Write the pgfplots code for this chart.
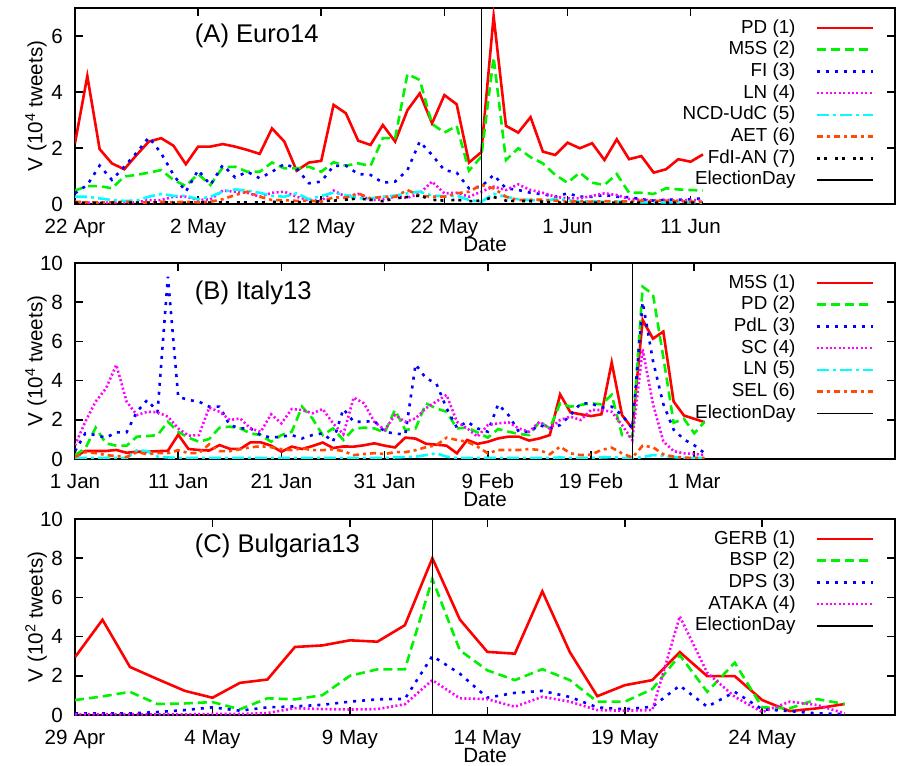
\documentclass[border=0pt]{standalone}
\usepackage{fontspec}
\setmainfont{Liberation Sans}
\usepackage{pgfplots}
\usepackage{pgfplotstable}
\pgfplotsset{compat=1.18}

\definecolor{cRed}{rgb}{1,0,0}
\definecolor{cGreen}{rgb}{0,0.95,0}
\definecolor{cBlue}{rgb}{0,0,1}
\definecolor{cMag}{rgb}{1,0,1}
\definecolor{cCyan}{rgb}{0,1,1}
\definecolor{cOrange}{rgb}{1,0.3,0}

\pgfplotstableread{
day PD M5S FI LN NCD AET FdI
0 2.17 0.48 0.38 0.05 0.26 0.08 0.05
1 4.57 0.64 0.68 0.05 0.26 0.06 0.04
2 1.96 0.64 1.37 0.04 0.20 0.05 0.04
3 1.45 0.56 0.86 0.05 0.14 0.06 0.05
4 1.24 0.98 1.33 0.05 0.11 0.08 0.04
5 1.75 1.04 1.83 0.06 0.12 0.06 0.05
6 2.23 1.12 2.38 0.14 0.26 0.05 0.05
7 2.35 1.21 1.81 0.14 0.36 0.08 0.06
8 2.08 0.86 1.04 0.26 0.29 0.06 0.05
9 1.42 0.64 0.44 0.26 0.29 0.08 0.05
10 2.05 1.07 1.21 0.14 0.17 0.06 0.06
11 2.05 0.68 0.68 0.17 0.26 0.08 0.05
12 2.14 1.31 1.39 0.48 0.44 0.17 0.06
13 2.05 1.33 0.95 0.44 0.52 0.32 0.05
14 1.93 1.15 1.15 0.40 0.48 0.44 0.06
15 1.79 1.15 0.92 0.26 0.40 0.26 0.05
16 2.70 1.48 1.15 0.40 0.29 0.14 0.08
17 2.23 1.27 1.43 0.44 0.26 0.14 0.06
18 1.19 1.27 1.27 0.26 0.38 0.11 0.07
19 1.48 1.33 0.74 0.14 0.17 0.12 0.06
20 1.54 1.15 0.80 0.11 0.29 0.08 0.10
21 3.54 1.49 1.36 0.48 0.40 0.24 0.12
22 3.24 1.37 1.37 0.26 0.32 0.22 0.15
23 2.26 1.45 1.07 0.36 0.20 0.38 0.20
24 2.11 1.36 1.04 0.14 0.20 0.20 0.15
25 2.82 2.35 0.76 0.17 0.26 0.26 0.10
26 2.23 2.35 0.80 0.26 0.30 0.26 0.20
27 3.35 4.64 1.21 0.22 0.38 0.50 0.25
28 3.95 4.43 2.23 0.38 0.44 0.29 0.30
29 2.88 2.86 1.75 0.80 0.30 0.26 0.15
30 3.89 2.55 1.21 0.38 0.28 0.26 0.12
31 3.56 2.79 1.12 0.40 0.30 0.38 0.15
32 1.48 1.19 0.56 0.26 0.14 0.44 0.10
33 1.85 1.69 0.62 0.44 0.08 0.68 0.12
34 6.71 5.24 1.04 0.62 0.36 0.56 0.25
35 2.79 1.57 0.56 0.50 0.26 0.26 0.12
36 2.55 1.99 0.50 0.70 0.17 0.14 0.10
37 3.10 1.67 0.40 0.50 0.14 0.15 0.10
38 1.87 1.45 0.35 0.40 0.12 0.15 0.08
39 1.75 1.04 0.26 0.26 0.17 0.12 0.05
40 2.19 0.76 0.38 0.20 0.14 0.08 0.05
41 1.99 1.12 0.26 0.20 0.08 0.10 0.05
42 2.17 0.76 0.26 0.29 0.10 0.08 0.05
43 1.57 0.68 0.32 0.38 0.08 0.10 0.05
44 2.31 1.07 0.26 0.32 0.08 0.08 0.05
45 1.60 0.40 0.24 0.18 0.08 0.10 0.05
46 1.71 0.40 0.17 0.15 0.06 0.12 0.05
47 1.12 0.36 0.12 0.12 0.06 0.10 0.04
48 1.24 0.56 0.15 0.15 0.06 0.12 0.05
49 1.60 0.52 0.15 0.12 0.06 0.10 0.04
50 1.51 0.50 0.17 0.15 0.06 0.08 0.05
51 1.77 0.48 0.20 0.12 0.05 0.08 0.04
}\euro

\pgfplotstableread{
day M5S PD PdL SC LN SEL
0 0.12 0.20 0.40 0.70 0.05 0.10
1 0.41 0.54 1.31 1.90 0.05 0.35
2 0.41 1.60 1.22 2.93 0.05 0.30
3 0.41 0.80 1.09 3.60 0.05 0.20
4 0.46 0.68 1.36 4.80 0.05 0.15
5 0.32 0.68 1.36 2.93 0.05 0.10
6 0.37 1.14 2.41 2.24 0.45 0.35
7 0.37 1.17 3.01 2.41 0.40 0.25
8 0.40 1.22 2.41 2.38 0.12 0.30
9 0.42 1.90 9.30 2.16 0.08 0.30
10 1.24 1.39 3.18 1.56 0.05 0.45
11 0.51 1.09 3.01 1.19 0.05 0.30
12 0.46 0.88 2.93 1.22 0.05 0.30
13 0.43 1.02 2.67 2.62 0.05 0.75
14 0.71 1.60 2.67 2.41 0.05 0.40
15 0.52 1.65 1.73 1.99 0.05 0.40
16 0.51 1.56 1.56 2.07 0.05 0.50
17 0.85 1.31 1.56 1.56 0.05 0.60
18 0.85 1.22 1.22 1.39 0.05 0.65
19 0.68 0.88 1.09 2.28 0.05 0.60
20 0.37 1.22 1.14 1.82 0.05 0.50
21 0.63 1.39 1.22 2.55 0.05 0.45
22 0.51 2.67 1.05 2.50 0.05 0.55
23 0.66 2.07 1.22 2.33 0.05 0.45
24 0.84 1.22 1.31 2.55 0.05 0.45
25 0.56 1.56 0.88 1.82 0.05 0.50
26 0.64 0.97 2.55 1.26 0.05 0.40
27 0.63 1.53 1.90 3.13 0.05 0.20
28 0.70 1.60 1.90 2.84 0.05 0.25
29 0.80 1.56 1.94 1.90 0.05 0.30
30 0.68 1.35 1.39 1.48 0.05 0.25
31 0.59 2.50 1.30 2.24 0.08 0.35
32 1.09 1.48 1.25 1.90 0.10 0.35
33 1.04 1.56 4.83 2.07 0.12 0.45
34 0.78 2.84 4.12 2.59 0.20 0.60
35 0.73 2.58 3.86 2.93 0.29 0.70
36 0.68 2.41 2.59 3.27 0.12 1.09
37 0.29 1.56 1.60 1.90 0.05 0.97
38 0.97 1.60 1.90 1.56 0.05 0.88
39 0.77 1.36 1.56 1.14 0.05 0.63
40 0.88 1.09 1.39 1.73 0.05 0.29
41 1.05 1.53 2.79 1.82 0.05 0.46
42 1.14 1.39 2.24 1.87 0.05 0.46
43 1.14 1.28 1.39 1.56 0.05 0.46
44 0.94 1.22 1.39 1.39 0.05 0.51
45 1.05 1.90 1.73 1.90 0.05 0.46
46 1.22 1.56 1.56 1.56 0.05 0.24
47 3.30 2.84 1.73 1.99 0.08 0.63
48 2.38 2.67 2.24 2.16 0.05 0.29
49 2.28 2.76 2.84 1.99 0.05 0.20
50 2.19 2.84 2.84 2.50 0.05 0.22
51 2.28 2.79 2.62 2.50 0.08 0.46
52 4.93 3.27 2.67 2.41 0.10 0.58
53 2.24 1.22 2.24 1.73 0.05 0.29
54 1.56 1.14 1.56 0.97 0.02 0.07
55 7.09 8.79 8.00 5.60 0.10 0.68
56 6.14 8.40 5.00 2.80 0.20 0.60
57 6.50 5.20 2.80 0.90 0.17 0.24
58 2.93 1.85 1.50 0.40 0.10 0.12
59 2.22 2.05 1.00 0.29 0.06 0.07
60 2.05 1.31 0.70 0.26 0.05 0.05
61 1.88 1.90 0.30 0.20 0.05 0.05
}\italy

\pgfplotstableread{
day GERB BSP DPS ATAKA
0 2.95 0.76 0.08 0.03
1 4.86 0.95 0.08 0.03
2 2.45 1.18 0.08 0.03
3 1.83 0.56 0.15 0.03
4 1.23 0.59 0.25 0.03
5 0.88 0.66 0.39 0.05
6 1.64 0.29 0.22 0.05
7 1.81 0.85 0.39 0.10
8 3.47 0.80 0.44 0.35
9 3.55 1.01 0.52 0.30
10 3.81 2.00 0.68 0.28
11 3.74 2.33 0.80 0.30
12 4.58 2.33 0.82 0.55
13 8.00 6.94 3.01 1.78
14 4.87 3.30 2.11 0.85
15 3.22 2.28 0.88 0.81
16 3.13 1.78 1.13 0.42
17 6.31 2.34 1.23 0.93
18 3.21 1.78 0.92 0.68
19 0.96 0.68 0.39 0.25
20 1.52 0.68 0.29 0.22
21 1.78 1.32 0.42 0.25
22 3.21 3.05 1.50 5.03
23 1.98 1.18 0.42 2.15
24 1.98 2.67 1.18 0.93
25 0.76 0.39 0.29 0.15
26 0.20 0.34 0.20 0.68
27 0.34 0.81 0.08 0.51
28 0.56 0.56 0.05 0.08
}\bulg

\pgfplotsset{
  legend image code/.code={\draw[#1] (0pt,0pt) -- (28pt,0pt);},
  s1/.style={cRed, solid, line width=1.3pt},
  s2/.style={cGreen, line width=1.3pt, dash pattern=on 4.5pt off 2.5pt},
  s3/.style={cBlue, line width=1.3pt, dash pattern=on 1.5pt off 3pt},
  s4/.style={cMag, line width=1.3pt, dash pattern=on 1pt off 1.2pt},
  s5/.style={cCyan, line width=1.3pt, dash pattern=on 6pt off 2pt on 1.5pt off 2pt},
  s6/.style={cOrange, line width=1.3pt, dash pattern=on 3pt off 2pt on 1.5pt off 2pt},
  s7/.style={black, line width=1.3pt, dash pattern=on 1.5pt off 2pt on 1.5pt off 4pt},
  sE/.style={black, solid, line width=0.7pt},
  myaxis/.style={
    scale only axis, width=410pt, height=98pt,
    axis line style={line width=0.8pt},
    tick align=inside, xtick pos=both, ytick pos=both,
    major tick length=4pt,
    every tick/.style={black, line width=0.8pt},
    /pgf/number format/assume math mode=true,
    ticklabel style={font=\fontsize{10.3}{12}\selectfont},
    xticklabel style={yshift=-4pt},
    yticklabel style={xshift=-2.5pt},
    xlabel={Date},
    every axis x label/.style={at={(axis description cs:0.5,0)}, anchor=center, yshift=-20.5pt, font=\fontsize{10.3}{12}\selectfont},
    every axis y label/.style={at={(axis description cs:0,0.5)}, xshift=-19.5pt, rotate=90, anchor=center, font=\fontsize{10.3}{12}\selectfont},
    ymin=0, xmin=0,
    legend plot pos=right,
    legend cell align=right,
    legend style={draw=none, fill=none, anchor=north east, at={(axis description cs:0.975,0.955)},
      font=\fontsize{9.4}{11}\selectfont, row sep=0pt, column sep=10pt, inner sep=0pt,
      nodes={text height=7pt, text depth=2pt, inner ysep=0.925pt, inner xsep=0pt}},
  },
}

\begin{document}
\begin{tikzpicture}
\useasboundingbox (0,0) rectangle (448.5pt,382.5pt);

\begin{axis}[myaxis, at={(37.5pt,280.5pt)}, anchor=south west,
  xmax=66.6, ymax=7, ytick={0,2,4,6},
  xtick={0,10,20,30,40,50},
  xticklabels={22 Apr,2 May,12 May,22 May,1 Jun,11 Jun},
  ylabel={V (10\textsuperscript{4} tweets)}]
\addplot[s1] table[x=day,y=PD] {\euro};
\addlegendentry{PD (1)}
\addplot[s2] table[x=day,y=M5S] {\euro};
\addlegendentry{M5S (2)}
\addplot[s3] table[x=day,y=FI] {\euro};
\addlegendentry{FI (3)}
\addplot[s4] table[x=day,y=LN] {\euro};
\addlegendentry{LN (4)}
\addplot[s5] table[x=day,y=NCD] {\euro};
\addlegendentry{NCD-UdC (5)}
\addplot[s6] table[x=day,y=AET] {\euro};
\addlegendentry{AET (6)}
\addplot[s7] table[x=day,y=FdI] {\euro};
\addlegendentry{FdI-AN (7)}
\addplot[sE] coordinates {(33,0) (33,7)};
\addlegendentry{ElectionDay}
\node[anchor=west, font=\fontsize{12.8}{14}\selectfont] at (axis description cs:0.1376,0.857) {(A) Euro14};
\end{axis}

\begin{axis}[myaxis, at={(37.5pt,153pt)}, anchor=south west,
  xmax=79.45, ymax=10, ytick={0,2,4,6,8,10},
  xtick={0,10,20,30,40,50,60},
  xticklabels={1 Jan,11 Jan,21 Jan,31 Jan,9 Feb,19 Feb,1 Mar},
  ylabel={V (10\textsuperscript{4} tweets)}]
\addplot[s1] table[x=day,y=M5S] {\italy};
\addlegendentry{M5S (1)}
\addplot[s2] table[x=day,y=PD] {\italy};
\addlegendentry{PD (2)}
\addplot[s3] table[x=day,y=PdL] {\italy};
\addlegendentry{PdL (3)}
\addplot[s4] table[x=day,y=SC] {\italy};
\addlegendentry{SC (4)}
\addplot[s5] table[x=day,y=LN] {\italy};
\addlegendentry{LN (5)}
\addplot[s6] table[x=day,y=SEL] {\italy};
\addlegendentry{SEL (6)}
\addplot[sE] coordinates {(54,0) (54,10)};
\addlegendentry{ElectionDay}
\node[anchor=west, font=\fontsize{12.8}{14}\selectfont] at (axis description cs:0.1376,0.85) {(B) Italy13};
\end{axis}

\begin{axis}[myaxis, at={(37.5pt,25pt)}, anchor=south west,
  xmax=29.83, ymax=10, ytick={0,2,4,6,8,10},
  xtick={0,5,10,15,20,25},
  xticklabels={29 Apr,4 May,9 May,14 May,19 May,24 May},
  ylabel={V (10\textsuperscript{2} tweets)}]
\addplot[s1] table[x=day,y=GERB] {\bulg};
\addlegendentry{GERB (1)}
\addplot[s2] table[x=day,y=BSP] {\bulg};
\addlegendentry{BSP (2)}
\addplot[s3] table[x=day,y=DPS] {\bulg};
\addlegendentry{DPS (3)}
\addplot[s4] table[x=day,y=ATAKA] {\bulg};
\addlegendentry{ATAKA (4)}
\addplot[sE] coordinates {(13,0) (13,10)};
\addlegendentry{ElectionDay}
\node[anchor=west, font=\fontsize{12.8}{14}\selectfont] at (axis description cs:0.1376,0.863) {(C) Bulgaria13};
\end{axis}
\end{tikzpicture}
\end{document}
